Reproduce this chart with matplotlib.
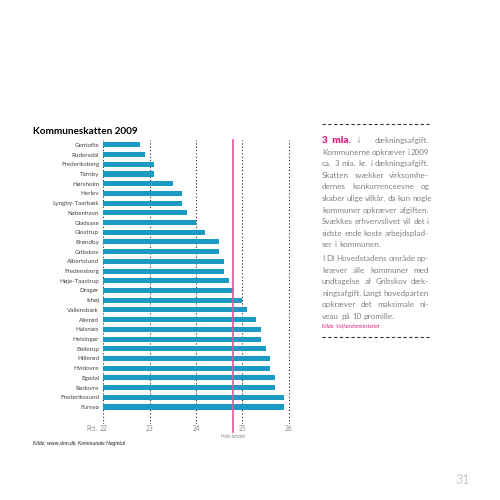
"""Kommuneskatten 2009 - bar chart with side text column."""
import matplotlib
matplotlib.use("Agg")
import matplotlib.pyplot as plt

kommuner = ["Gentofte", "Rudersdal", "Frederiksberg", "Tårnby", "Hørsholm", "Herlev",
            "Lyngby-Taarbæk", "København", "Gladsaxe", "Glostrup", "Brøndby", "Gribskov",
            "Albertslund", "Fredensborg", "Høje-Taastrup", "Dragør", "Ishøj", "Vallensbæk",
            "Allerød", "Halsnæs", "Helsingør", "Ballerup", "Hillerød", "Hvidovre",
            "Egedal", "Rødovre", "Frederikssund", "Furesø"]
skat = [22.8, 22.9, 23.1, 23.1, 23.5, 23.7, 23.7, 23.8, 24.0, 24.2, 24.5, 24.5,
        24.6, 24.6, 24.7, 24.8, 25.0, 25.1, 25.3, 25.4, 25.4, 25.5, 25.6, 25.6,
        25.7, 25.7, 25.9, 25.9]
hele_landet = 24.8
xticks = [22, 23, 24, 25, 26]

BLUE = "#1b9bc3"
PINK = "#e0559a"
MAGENTA = "#d4247f"
GREY = "#8a8a8a"
FONT = ["Lato", "DejaVu Sans"]

fig = plt.figure(figsize=(5, 5), dpi=100)
ax = fig.add_axes([0.2066, 0.152, 0.3758, 0.568])

y = list(range(len(kommuner)))
ax.barh(y, [v - 22 for v in skat], left=22, height=0.52, color=BLUE, zorder=2)
for xt in xticks:
    ax.axvline(xt, color="#222222", linestyle=(0, (1, 2)), linewidth=0.8, zorder=1)
ax.axvline(hele_landet, ymin=-0.028, ymax=1.0, color=PINK, linewidth=1.2,
           zorder=3, clip_on=False)

ax.set_xlim(22, 26.05)
ax.set_ylim(28.75, -0.5)
ax.set_yticks(y)
ax.set_yticklabels(kommuner, fontsize=4.5, color="#444444", family=FONT)
ax.set_xticks(xticks)
ax.set_xticklabels([str(t) for t in xticks], fontsize=4.8, color=GREY, family=FONT)
ax.tick_params(axis="both", length=0)
ax.tick_params(axis="y", pad=3)
ax.tick_params(axis="x", pad=1)
for s in ax.spines.values():
    s.set_visible(False)

fig.text(92 / 500, 1 - 425 / 500, "Pct.", fontsize=4.8, color=GREY, ha="center",
         va="top", family=FONT)
fig.text(233 / 500, 1 - 437 / 500, "Hele landet", fontsize=3.4, color=GREY,
         ha="center", va="center", family=FONT)
fig.text(33 / 500, 1 - 131 / 500, "Kommuneskatten 2009", fontsize=7.2, fontweight="bold",
         color="black", ha="left", va="center", family=FONT)
fig.text(33 / 500, 1 - 443 / 500, "Kilde: www.skm.dk, Kommunale Nøgletal", fontsize=3.9,
         style="italic", color="#222222", ha="left", va="center", family=FONT)
fig.text(463 / 500, 1 - 480 / 500, "31", fontsize=9, color="#c8c8c8", ha="center",
         va="center", family=FONT)

# right text column, justified by hand
X0, X1 = 322 / 500, 429 / 500
fig.add_artist(plt.Line2D([X0, X1], [1 - 124 / 500] * 2, color="#333333", linewidth=0.8,
                          linestyle=(0, (3, 2.2))))
fig.add_artist(plt.Line2D([X0, X1], [1 - 337 / 500] * 2, color="#333333", linewidth=0.8,
                          linestyle=(0, (3, 2.2))))

para1 = ["i dækningsafgift.", "Kommunerne opkræver i 2009",
         "ca. 3 mia. kr. i dækningsafgift.", "Skatten svækker virksomhe-",
         "dernes konkurrenceevne og", "skaber ulige vilkår, da kun nogle",
         "kommuner opkræver afgiften.", "Svækkes erhvervslivet vil det i",
         "sidste ende koste arbejdsplad-", "ser i kommunen."]
para2 = ["I DI Hovedstadens område op-", "kræver alle kommuner med",
         "undtagelse af Gribskov dæk-", "ningsafgift. Langt hovedparten",
         "opkræver det maksimale ni-", "veau på 10 promille."]

renderer = fig.canvas.get_renderer()
TXT = dict(fontsize=5.8, color="#808080", va="baseline", family=FONT)
LINE = 11.6 / 500


def justify(line, ybase, x_start, justified):
    words = line.split()
    arts = [fig.text(0, ybase, w, ha="left", **TXT) for w in words]
    widths = [a.get_window_extent(renderer).width / 500 for a in arts]
    space = 2.2 / 500
    if justified and len(words) > 1:
        gap = max((X1 - x_start - sum(widths)) / (len(words) - 1), 1.4 / 500)
    else:
        gap = space
    x = x_start
    for a, w in zip(arts, widths):
        a.set_x(x)
        x += w + gap


y0 = 1 - 143 / 500
head = fig.text(X0, y0, "3  mia.", fontsize=7.2, fontweight="heavy", color=MAGENTA,
                ha="left", va="baseline", family=FONT)
hw = head.get_window_extent(renderer).width / 500
justify(para1[0], y0, X0 + hw + 0.014, True)
for i, line in enumerate(para1[1:], start=1):
    justify(line, y0 - i * LINE, X0, i < len(para1) - 1)

y1 = 1 - 261 / 500
for i, line in enumerate(para2):
    justify(line, y1 - i * LINE, X0, i < len(para2) - 1)

fig.text(X0, 1 - 327 / 500, "Kilde: Velfærdsministeriet", fontsize=3.9, style="italic",
         color=MAGENTA, ha="left", va="baseline", family=FONT)

fig.savefig("out.png", dpi=100)
